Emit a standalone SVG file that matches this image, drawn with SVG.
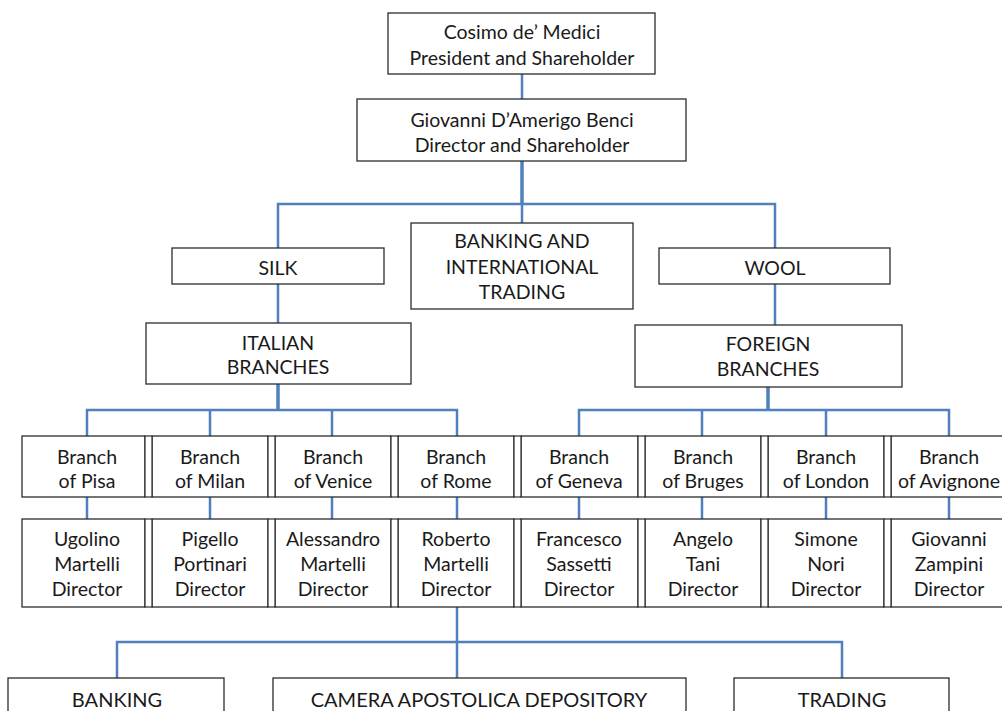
<svg xmlns="http://www.w3.org/2000/svg" width="1002" height="711" viewBox="0 0 1002 711">
<style>
.box{fill:#fff;stroke:#2b2b2b;stroke-width:1.3}
.sep{fill:#fff;stroke:#2b2b2b;stroke-width:1.2}
.c{fill:none;stroke:#4f81bd;stroke-width:2.5}
.t{stroke-width:3.5}
text{font-family:Lato,"Liberation Sans",sans-serif;font-size:19.5px;fill:#1a1a1a;text-anchor:middle}
.big{font-size:20px}
</style>
<rect width="1002" height="711" fill="#fff"/>
<g id="connectors">
<path class="c" d="M522 74V99"/>
<path class="c t" d="M522 161V204"/>
<path class="c" d="M278 248V204H775V248M522 204V223"/>
<path class="c" d="M278 284V323M775 284V325"/>
<path class="c t" d="M278 384V410M768 387V410"/>
<path class="c" d="M87 436V410H457V436M210 410V436M332 410V436"/>
<path class="c" d="M579 436V410H949V436M702 410V436M826 410V436"/>
<path class="c" d="M87 497V519M210 497V519M332 497V519M457 497V519M579 497V519M702 497V519M826 497V519M949 497V519"/>
<path class="c" d="M457 607V678M117 678V642H842V678"/>
</g>
<g id="cosimo"><rect class="box" x="388" y="13" width="267" height="61"/><text x="522" y="39">Cosimo de’ Medici</text><text x="522" y="65">President and Shareholder</text></g>
<g id="giovanni"><rect class="box" x="357" y="99" width="329" height="62"/><text x="522" y="127">Giovanni D’Amerigo Benci</text><text x="522" y="152">Director and Shareholder</text></g>
<g id="banking-intl"><rect class="box" x="411" y="223" width="222" height="86"/><text x="522" y="248">BANKING AND</text><text x="522" y="274">INTERNATIONAL</text><text x="522" y="299">TRADING</text></g>
<g id="silk"><rect class="box" x="172" y="248" width="212" height="36"/><text x="278" y="275">SILK</text></g>
<g id="wool"><rect class="box" x="659" y="248" width="231" height="36"/><text x="775" y="275">WOOL</text></g>
<g id="italian"><rect class="box" x="146" y="323" width="265" height="61"/><text x="278" y="350">ITALIAN</text><text x="278" y="374">BRANCHES</text></g>
<g id="foreign"><rect class="box" x="635" y="325" width="267" height="62"/><text x="768" y="351">FOREIGN</text><text x="768" y="376">BRANCHES</text></g>
<g id="branch-pisa"><rect class="box" x="22" y="436" width="123" height="61"/><text x="87" y="464">Branch</text><text x="87" y="488">of Pisa</text></g>
<g id="branch-milan"><rect class="box" x="152" y="436" width="116" height="61"/><text x="210" y="464">Branch</text><text x="210" y="488">of Milan</text></g>
<g id="branch-venice"><rect class="box" x="275" y="436" width="116" height="61"/><text x="333" y="464">Branch</text><text x="333" y="488">of Venice</text></g>
<g id="branch-rome"><rect class="box" x="398" y="436" width="116" height="61"/><text x="456" y="464">Branch</text><text x="456" y="488">of Rome</text></g>
<g id="branch-geneva"><rect class="box" x="521" y="436" width="117" height="61"/><text x="579" y="464">Branch</text><text x="579" y="488">of Geneva</text></g>
<g id="branch-bruges"><rect class="box" x="645" y="436" width="116" height="61"/><text x="703" y="464">Branch</text><text x="703" y="488">of Bruges</text></g>
<g id="branch-london"><rect class="box" x="768" y="436" width="116" height="61"/><text x="826" y="464">Branch</text><text x="826" y="488">of London</text></g>
<g id="branch-avignone"><rect class="box" x="891" y="436" width="120" height="61"/><text x="949" y="464">Branch</text><text x="949" y="488">of Avignone</text></g>
<g id="dir-pisa"><rect class="box" x="22" y="519" width="123" height="88"/><text x="87" y="546">Ugolino</text><text x="87" y="571">Martelli</text><text x="87" y="596">Director</text></g>
<g id="dir-milan"><rect class="box" x="152" y="519" width="116" height="88"/><text x="210" y="546">Pigello</text><text x="210" y="571">Portinari</text><text x="210" y="596">Director</text></g>
<g id="dir-venice"><rect class="box" x="275" y="519" width="116" height="88"/><text x="333" y="546">Alessandro</text><text x="333" y="571">Martelli</text><text x="333" y="596">Director</text></g>
<g id="dir-rome"><rect class="box" x="398" y="519" width="116" height="88"/><text x="456" y="546">Roberto</text><text x="456" y="571">Martelli</text><text x="456" y="596">Director</text></g>
<g id="dir-geneva"><rect class="box" x="521" y="519" width="117" height="88"/><text x="579" y="546">Francesco</text><text x="579" y="571">Sassetti</text><text x="579" y="596">Director</text></g>
<g id="dir-bruges"><rect class="box" x="645" y="519" width="116" height="88"/><text x="703" y="546">Angelo</text><text x="703" y="571">Tani</text><text x="703" y="596">Director</text></g>
<g id="dir-london"><rect class="box" x="768" y="519" width="116" height="88"/><text x="826" y="546">Simone</text><text x="826" y="571">Nori</text><text x="826" y="596">Director</text></g>
<g id="dir-avignone"><rect class="box" x="891" y="519" width="120" height="88"/><text x="949" y="546">Giovanni</text><text x="949" y="571">Zampini</text><text x="949" y="596">Director</text></g>
<g id="dividers">
<rect class="sep" x="145" y="436" width="7" height="61"/><rect class="sep" x="268" y="436" width="7" height="61"/><rect class="sep" x="391" y="436" width="7" height="61"/><rect class="sep" x="514" y="436" width="7" height="61"/><rect class="sep" x="638" y="436" width="7" height="61"/><rect class="sep" x="761" y="436" width="7" height="61"/><rect class="sep" x="884" y="436" width="7" height="61"/>
<rect class="sep" x="145" y="519" width="7" height="88"/><rect class="sep" x="268" y="519" width="7" height="88"/><rect class="sep" x="391" y="519" width="7" height="88"/><rect class="sep" x="514" y="519" width="7" height="88"/><rect class="sep" x="638" y="519" width="7" height="88"/><rect class="sep" x="761" y="519" width="7" height="88"/><rect class="sep" x="884" y="519" width="7" height="88"/>
</g>
<g id="banking"><rect class="box" x="8" y="678" width="216" height="50"/><text class="big" x="117" y="707">BANKING</text></g>
<g id="camera"><rect class="box" x="273" y="678" width="413" height="50"/><text class="big" x="479" y="707">CAMERA APOSTOLICA DEPOSITORY</text></g>
<g id="trading"><rect class="box" x="734" y="678" width="215" height="50"/><text class="big" x="842" y="707">TRADING</text></g>
</svg>
